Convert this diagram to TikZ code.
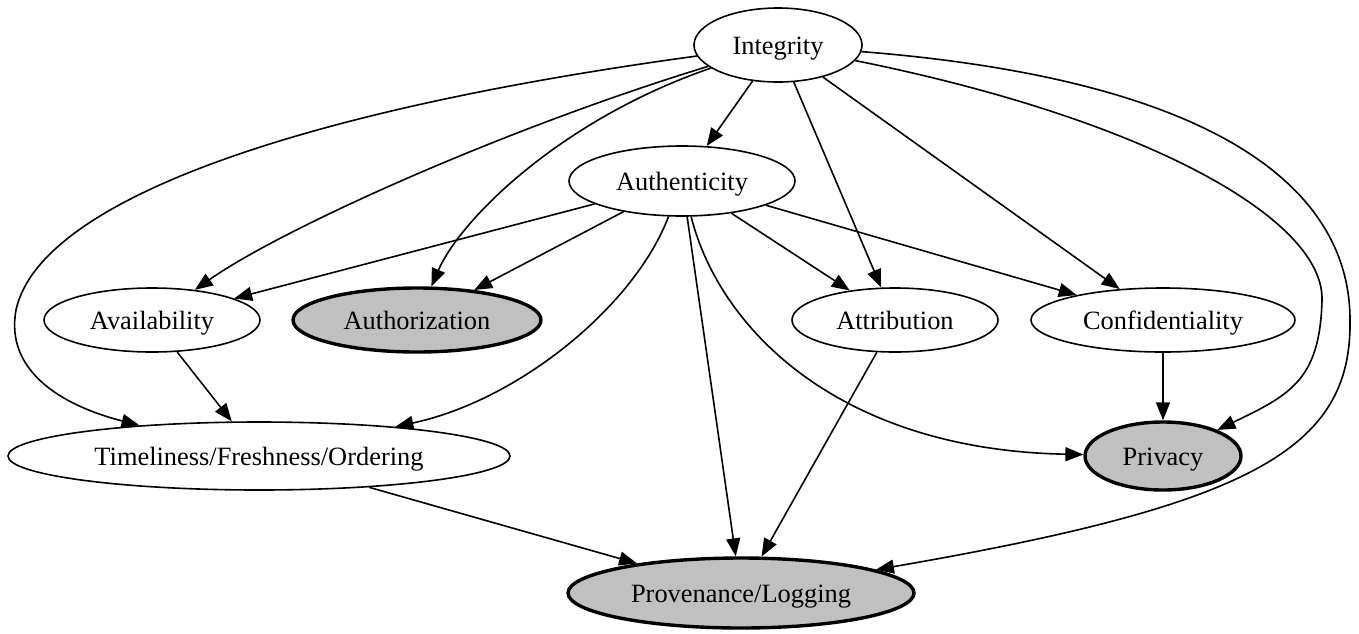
\documentclass[tikz,border=0pt]{standalone}
\usepackage{fontspec}
\setmainfont{Liberation Serif}
\usetikzlibrary{shapes.geometric,arrows.meta}
\begin{document}
\begin{tikzpicture}[x=0.5pt,y=-0.5pt,
  every node/.style={ellipse,draw,line width=0.8pt,inner sep=0pt,text height=9pt,text depth=0pt,font=\fontsize{13.2}{15}\selectfont},
  hl/.style={fill={rgb,255:red,192;green,192;blue,192},line width=1.7pt},
  edge/.style={line width=0.8pt,-{Triangle[length=9pt,width=7pt]}}]
\useasboundingbox (0,0) rectangle (1359,633);
\node[minimum width=84pt,minimum height=37pt] (int) at (778,45) {Integrity};
\node[minimum width=113pt,minimum height=35pt] (auth) at (682,181) {Authenticity};
\node[minimum width=108pt,minimum height=32pt] (ava) at (152,320) {Availability};
\node[hl,minimum width=124pt,minimum height=32pt] (aut) at (417,320) {Authorization};
\node[minimum width=103pt,minimum height=32pt] (att) at (895,320) {Attribution};
\node[minimum width=132pt,minimum height=32pt] (con) at (1163,320) {Confidentiality};
\node[minimum width=251pt,minimum height=34pt] (tim) at (259,456) {Timeliness/Freshness/Ordering};
\node[hl,minimum width=78pt,minimum height=34pt] (pri) at (1163,456) {Privacy};
\node[hl,minimum width=173pt,minimum height=35pt] (pro) at (741,593) {Provenance/Logging};
\coordinate (k1) at (16,310);
\coordinate (k2) at (1322,300);
\coordinate (k3) at (1350,320);
% Integrity edges
\draw[edge] (int) -- (auth);
\draw[edge] (int) .. controls (300,110) and (40,200) .. (k1) .. controls (5,370) and (60,405) .. (tim);
\draw[edge] (int) .. controls (500,130) and (280,230) .. (ava);
\draw[edge] (int) .. controls (560,120) and (460,220) .. (aut);
\draw[edge] (int) -- (att);
\draw[edge] (int) -- (con);
\draw[edge] (int) .. controls (1150,120) and (1324,220) .. (k2) .. controls (1320,380) and (1290,395) .. (pri);
\draw[edge] (int) .. controls (1220,80) and (1350,190) .. (k3) .. controls (1352,450) and (1250,505) .. (pro);
% Authenticity edges
\draw[edge] (auth) -- (ava);
\draw[edge] (auth) -- (aut);
\draw[edge] (auth) -- (att);
\draw[edge] (auth) -- (con);
\draw[edge] (auth) .. controls (635,305) and (520,400) .. (tim);
\draw[edge] (auth) -- (pro);
\draw[edge] (auth) .. controls (720,330) and (840,450) .. (pri);
% others
\draw[edge] (ava) -- (tim);
\draw[edge] (att) -- (pro);
\draw[edge] (con) -- (pri);
\draw[edge] (tim) -- (pro);
\end{tikzpicture}
\end{document}
